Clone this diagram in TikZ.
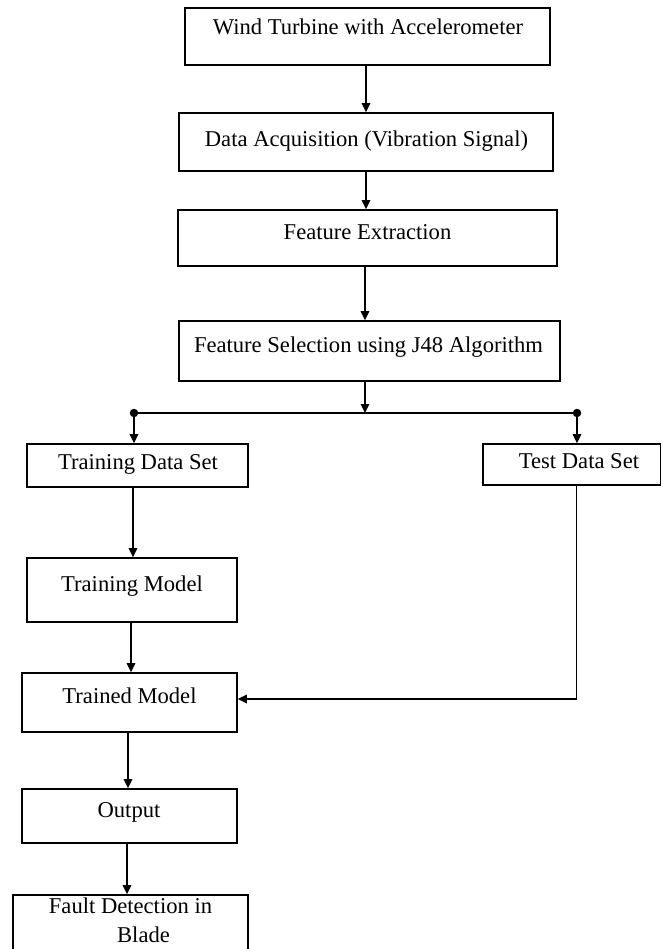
\documentclass[tikz,border=0pt]{standalone}
\usepackage{fontspec}
\setmainfont{Liberation Serif}
\usetikzlibrary{arrows.meta}
\begin{document}
\begin{tikzpicture}[x=1pt,y=-1pt,
  box/.style={draw, line width=1.7pt, inner sep=0pt, rectangle},
  txt/.style={inner sep=0pt, anchor=base, font=\fontsize{22.6}{28}\selectfont},
  arr/.style={line width=1.6pt, -{Triangle[length=9pt,width=8.5pt]}},
  ln/.style={line width=1.6pt},
  dotc/.style={fill=black, circle, inner sep=0pt, minimum size=8.5pt}]
\useasboundingbox (0,0) rectangle (662,949);
\clip (0,0) rectangle (662,949);
% boxes
\node[box, minimum width=365pt, minimum height=57pt] (b1) at (367.5,36.5) {};
\node[box, minimum width=374pt, minimum height=58pt] (b2) at (366,142) {};
\node[box, minimum width=379pt, minimum height=56pt] (b3) at (367.5,238) {};
\node[box, minimum width=381pt, minimum height=60pt] (b4) at (369.5,351) {};
\node[box, minimum width=221pt, minimum height=43pt] (tds) at (137.5,465.5) {};
\node[box, minimum width=177.5pt, minimum height=41pt] (test) at (571.75,464.5) {};
\node[box, minimum width=210pt, minimum height=64pt] (tm) at (132,590) {};
\node[box, minimum width=215pt, minimum height=59pt] (trained) at (129.5,702.5) {};
\node[box, minimum width=215pt, minimum height=54pt] (out) at (129.5,816) {};
\node[box, minimum width=235pt, minimum height=65pt] (fault) at (130.5,927.5) {};
% texts
\node[txt] (t1) at (368,34.5) {Wind Turbine with Accelerometer};
\node[txt] (t2) at (366.5,147) {Data Acquisition (Vibration Signal)};
\node[txt] (t3) at (367.5,240) {Feature Extraction};
\node[txt] (t4) at (368.5,352.5) {Feature Selection using J48 Algorithm};
\node[txt] (ttds) at (138,469.5) {Training Data Set};
\node[txt] (ttest) at (579,468.5) {Test Data Set};
\node[txt] (ttm) at (132,591.5) {Training Model};
\node[txt] (ttr) at (129.5,703.5) {Trained Model};
\node[txt] (tout) at (129,817.5) {Output};
\node[txt] (tf1) at (130.5,913.5) {Fault Detection in};
\node[txt] (tf2) at (143.5,942) {Blade};
% split
\coordinate (split) at (365,413);
\node[dotc] (dl) at (134,413) {};
\node[dotc] (dr) at (577,413) {};
% connectors
\draw[arr] (b1.south -| b2.north) -- (b2.north);
\draw[arr] (b2.south) -- (b2.south |- b3.north);
\draw[arr] ([xshift=-2.5pt]b3.south) -- ([xshift=-2.5pt]b3.south |- b4.north);
\draw[arr] (b4.south -| split) -- (split);
\draw[ln] (dl.center) -- (dr.center);
\draw[arr] (dl.center) -- (dl.center |- tds.north);
\draw[arr] (dr.center) -- (dr.center |- test.north);
\draw[arr] ([xshift=-4.5pt]tds.south) -- ([xshift=-4.5pt]tds.south |- tm.north);
\draw[arr] ([xshift=-1pt]tm.south) -- ([xshift=-1pt]tm.south |- trained.north);
\draw[arr] ([xshift=-1.5pt]trained.south) -- ([xshift=-1.5pt]trained.south |- out.north);
\draw[arr] ([xshift=-2.5pt]out.south) -- ([xshift=-2.5pt]out.south |- fault.north);
\draw[arr] ([xshift=4.75pt]test.south) |- ([yshift=3.5pt]trained.east);
\end{tikzpicture}
\end{document}
